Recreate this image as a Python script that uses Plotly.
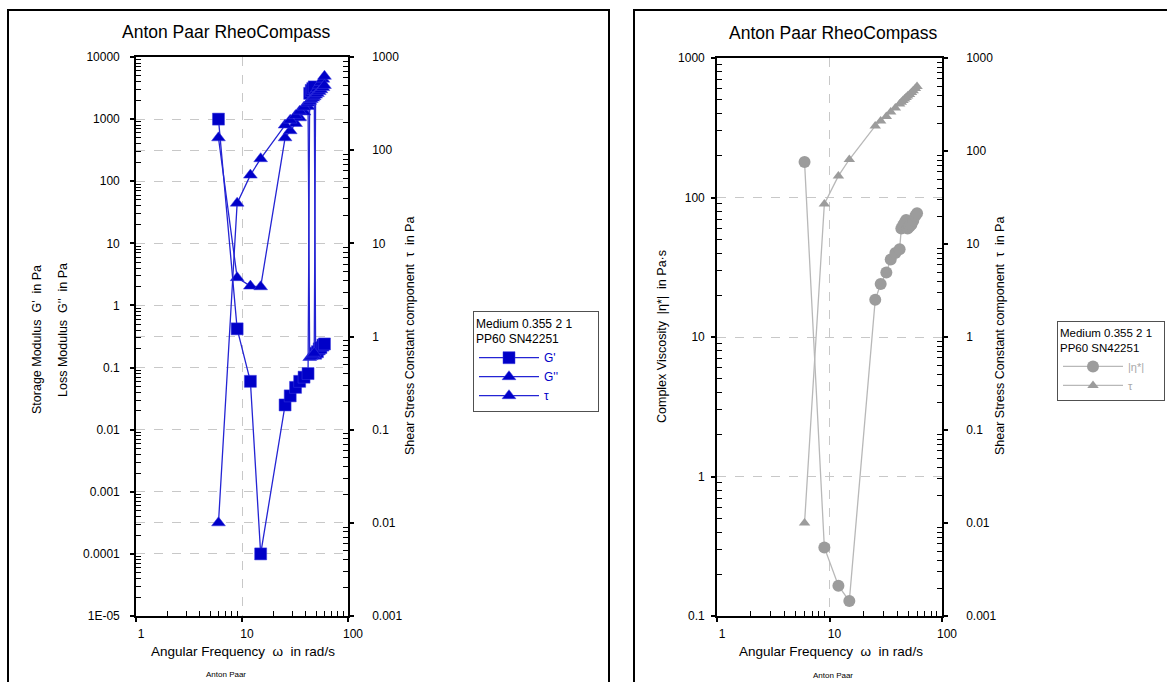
import plotly.graph_objects as go

# ---- measurement data (frequency sweep, PP60) ----
omega = [6, 9, 12, 15, 25.5, 28.5, 32, 35, 38.5, 42, 43.5, 45, 46.5, 48,
         49.5, 51.5, 53.5, 55.5, 58, 60]
g_storage = [1000, 0.42, 0.06, 0.0001, 0.025, 0.035, 0.048, 0.06, 0.07, 0.08,
             2600, 2900, 3100, 3300, 0.17, 0.18, 0.2, 0.21, 0.23, 0.24]
g_loss = [500, 2.8, 2.05, 2.0, 500, 650, 850, 1050, 1300, 1600,
          0.145, 0.15, 0.16, 0.17, 2800, 3100, 3500, 3900, 4400, 4900]
tau = [0.01, 27, 54, 81, 186, 210, 235, 262, 290, 320, 335, 350, 362, 375,
       390, 405, 425, 445, 470, 495]
eta = [180, 0.31, 0.165, 0.128, 18.5, 24, 29, 36, 40, 42.5, 60, 63, 66, 69,
       60, 62, 64, 68, 74, 77]

left_ticks = [1e-5, 1e-4, 1e-3, 1e-2, 1e-1, 1, 10, 100, 1000, 10000]
left_labels = ["1E-05", "0.0001", "0.001", "0.01", "0.1", "1", "10", "100", "1000", "10000"]
tau_ticks = [1e-3, 1e-2, 1e-1, 1, 10, 100, 1000]
tau_labels = ["0.001", "0.01", "0.1", "1", "10", "100", "1000"]
eta_ticks = [0.1, 1, 10, 100, 1000]
eta_labels = ["0.1", "1", "10", "100", "1000"]
x_ticks = [1, 10, 100]
x_labels = ["1", "10", "100"]

W, H = 1167, 682
FONT = "Liberation Sans, Arial, sans-serif"
BLUE = "#0000c8"
BLUE_LINE = "#2424d4"
GREY = "#9c9c9c"
GREY_LINE = "#b8b8b8"
NBSP = "\u00a0"


def minor_vals(lo, hi):
    vals = []
    for e in range(lo, hi):
        for k in range(2, 10):
            vals.append(k * 10 ** e)
    return vals


def px(x):
    return x / W


def py(y):
    return 1 - y / H


fig = go.Figure()

# left panel: moduli + shear stress
fig.add_trace(go.Scatter(x=omega, y=g_storage, name="G'", mode="lines+markers",
                         line=dict(color=BLUE_LINE, width=1.3),
                         marker=dict(symbol="square", size=12, color=BLUE,
                                     line=dict(color="#3a3ae0", width=0.5)),
                         xaxis="x", yaxis="y", legend="legend"))
fig.add_trace(go.Scatter(x=omega, y=g_loss, name="G''", mode="lines+markers",
                         line=dict(color=BLUE_LINE, width=1.3),
                         marker=dict(symbol="triangle-up", size=12, color=BLUE,
                                     line=dict(color="#3a3ae0", width=0.5)),
                         xaxis="x", yaxis="y", legend="legend"))
fig.add_trace(go.Scatter(x=omega, y=tau, name="τ", mode="lines+markers",
                         line=dict(color=BLUE_LINE, width=1.3),
                         marker=dict(symbol="triangle-up", size=12, color=BLUE,
                                     line=dict(color="#3a3ae0", width=0.5)),
                         xaxis="x", yaxis="y2", legend="legend"))

# right panel: complex viscosity + shear stress
fig.add_trace(go.Scatter(x=omega, y=eta, name="|η*|", mode="lines+markers",
                         line=dict(color=GREY_LINE, width=1.3),
                         marker=dict(symbol="circle", size=12, color=GREY),
                         xaxis="x2", yaxis="y3", legend="legend2"))
fig.add_trace(go.Scatter(x=omega, y=tau, name="τ", mode="lines+markers",
                         line=dict(color=GREY_LINE, width=1.3),
                         marker=dict(symbol="triangle-up", size=10, color=GREY),
                         xaxis="x2", yaxis="y4", legend="legend2"))

tick_font = dict(family=FONT, size=12, color="black")
grid = dict(showgrid=True, gridcolor="#c8c8c8", griddash="dash", gridwidth=1)
line = dict(showline=True, linecolor="black", linewidth=1.6)


def log_axis(rng, tv, tt, **kw):
    d = dict(type="log", range=rng, tickmode="array", tickvals=tv, ticktext=tt,
             ticks="outside", ticklen=4, tickwidth=1.5, tickcolor="black",
             tickfont=tick_font, zeroline=False, automargin=False,
             minor=dict(ticks="inside", ticklen=5, tickwidth=1.2, tickcolor="black",
                        tickmode="array", tickvals=minor_vals(int(rng[0]), int(rng[1])),
                        showgrid=False))
    d.update(line)
    d.update(kw)
    return d


def ghost_axis(rng, tv, **kw):
    d = dict(type="log", range=rng, tickmode="array", tickvals=tv,
             showticklabels=False, ticks="inside", ticklen=5, tickwidth=1.5,
             tickcolor="black", showgrid=False, showline=False, zeroline=False,
             automargin=False)
    d.update(kw)
    return d


L_dom_x = [px(136), px(348)]
L_dom_y = [py(616), py(57)]
R_dom_x = [px(717), px(942)]
R_dom_y = [py(616), py(58)]

legend_title = "Medium 0.355 2 1" + NBSP * 7 + "<br>PP60 SN42251"
legend2_title = "Medium 0.355 2 1" + NBSP * 3 + "<br>PP60 SN42251"

fig.update_layout(
    template="none",
    width=W, height=H, autosize=False, margin=dict(l=0, r=0, t=0, b=0, pad=0),
    paper_bgcolor="white", plot_bgcolor="white",
    font=dict(family=FONT, color="black"),
    xaxis=log_axis([0, 2], x_ticks, x_labels, domain=L_dom_x, anchor="y",
                   mirror=True, ticklabelshift=5, ticklabelstandoff=2, **grid),
    yaxis=log_axis([-5, 4], left_ticks, left_labels, domain=L_dom_y, anchor="x",
                   ticklabelstandoff=8, **grid),
    yaxis2=log_axis([-3, 3], tau_ticks, tau_labels, overlaying="y", side="right",
                    anchor="x", ticklabelstandoff=16, **grid),
    xaxis2=log_axis([0, 2], x_ticks, x_labels, domain=R_dom_x, anchor="y3",
                    mirror=True, ticklabelshift=5, ticklabelstandoff=2, **grid),
    yaxis3=log_axis([-1, 3], eta_ticks, eta_labels, domain=R_dom_y, anchor="x2",
                    ticklabelstandoff=4, **grid),
    yaxis4=log_axis([-3, 3], tau_ticks, tau_labels, overlaying="y3", side="right",
                    anchor="x2", ticklabelstandoff=16, showgrid=False),
    # inner halves of the major ticks
    xaxis3=ghost_axis([0, 2], x_ticks, overlaying="x", anchor="y", side="bottom"),
    yaxis5=ghost_axis([-5, 4], left_ticks, overlaying="y", anchor="x", side="left"),
    yaxis6=ghost_axis([-3, 3], tau_ticks, overlaying="y", anchor="x", side="right"),
    xaxis4=ghost_axis([0, 2], x_ticks, overlaying="x2", anchor="y3", side="bottom"),
    yaxis7=ghost_axis([-1, 3], eta_ticks, overlaying="y3", anchor="x2", side="left"),
    yaxis8=ghost_axis([-3, 3], tau_ticks, overlaying="y3", anchor="x2", side="right"),
    legend=dict(x=px(473), y=py(311), xanchor="left", yanchor="top",
                bgcolor="white", bordercolor="#505050", borderwidth=1,
                font=dict(family=FONT, size=12, color=BLUE),
                title=dict(text=legend_title,
                           font=dict(family=FONT, size=12, color="black")),
                itemwidth=60, tracegroupgap=0),
    legend2=dict(x=px(1057), y=py(321), xanchor="left", yanchor="top",
                 bgcolor="white", bordercolor="#505050", borderwidth=1,
                 font=dict(family=FONT, size=11, color="#a8a8a8"),
                 title=dict(text=legend2_title,
                            font=dict(family=FONT, size=11.5, color="black")),
                 itemwidth=60, tracegroupgap=0),
    showlegend=True,
)

# panel frames (bottom/right edges run off the page)
fig.add_shape(type="path", xref="paper", yref="paper",
              path=f"M {px(8)},0 L {px(8)},{py(10)} L {px(609)},{py(10)} L {px(609)},0",
              line=dict(color="black", width=2), layer="below")
fig.add_shape(type="path", xref="paper", yref="paper",
              path=f"M {px(634)},0 L {px(634)},{py(10)} L 1,{py(10)}",
              line=dict(color="black", width=2), layer="below")


def note(text, x, y, size=13, angle=0):
    fig.add_annotation(text=text, x=px(x), y=py(y), xref="paper", yref="paper",
                       showarrow=False, textangle=angle,
                       font=dict(family=FONT, size=size, color="black"),
                       xanchor="center", yanchor="middle")


note("Anton Paar RheoCompass", 226, 32, size=17.5)
note("Anton Paar RheoCompass", 833, 33, size=17.5)
note("Angular Frequency  ω  in rad/s", 243, 651, size=13.5)
note("Angular Frequency  ω  in rad/s", 831, 651, size=13.5)
note("Anton Paar", 226, 674, size=8)
note("Anton Paar", 833, 675, size=8)
note("Storage Modulus  G'  in Pa", 37, 340, size=12.5, angle=-90)
note("Loss Modulus  G''  in Pa", 63, 330, size=12.5, angle=-90)
note("Shear Stress Constant component  τ  in Pa", 410, 336, size=12.5, angle=-90)
note("Complex Viscosity  |η*|  in Pa·s", 662, 337, size=12.5, angle=-90)
note("Shear Stress Constant component  τ  in Pa", 1000, 336, size=12.5, angle=-90)

fig.write_html("out.html")
